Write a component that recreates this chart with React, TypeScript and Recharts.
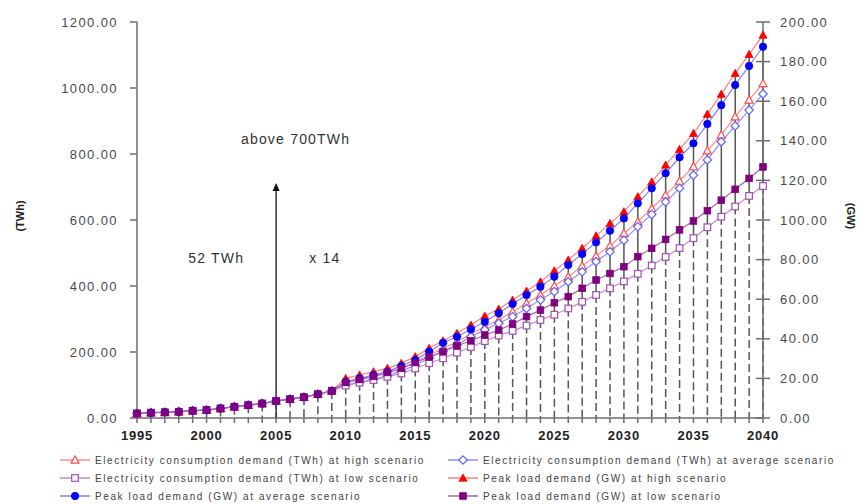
import { ComposedChart, Line, Bar, XAxis, YAxis, ReferenceLine, ReferenceDot } from 'recharts';

const years = [
  1995, 1996, 1997, 1998, 1999, 2000, 2001, 2002, 2003, 2004,
  2005, 2006, 2007, 2008, 2009, 2010, 2011, 2012, 2013, 2014,
  2015, 2016, 2017, 2018, 2019, 2020, 2021, 2022, 2023, 2024,
  2025, 2026, 2027, 2028, 2029, 2030, 2031, 2032, 2033, 2034,
  2035, 2036, 2037, 2038, 2039, 2040,
];

// consumption, TWh
const consHigh = [
  14, 16, 17, 19, 22, 24, 29, 34, 39, 44, 52, 57, 63, 72, 82,
  108, 117, 126, 136, 149, 168, 190, 211, 231, 254, 277, 297, 322, 348, 373,
  400, 428, 461, 491, 522, 560, 595, 635, 676, 718, 762, 810, 858, 913, 964, 1014,
];
const consAvg = [
  14, 16, 17, 19, 22, 24, 29, 34, 39, 44, 52, 57, 63, 72, 82,
  100, 109, 118, 128, 142, 160, 182, 203, 222, 246, 267, 287, 307, 332, 358,
  383, 413, 443, 474, 504, 539, 580, 617, 655, 696, 736, 782, 837, 885, 933, 982,
];
const consLow = [
  14, 16, 17, 19, 22, 24, 29, 34, 39, 44, 52, 57, 63, 72, 82,
  98, 107, 115, 125, 135, 150, 166, 181, 198, 215, 233, 250, 264, 280, 297,
  313, 332, 352, 373, 393, 414, 437, 462, 488, 515, 545, 578, 610, 641, 673, 703,
];

// peak load, GW
const peakHigh = [
  2.3, 2.7, 2.9, 3.2, 3.7, 4.0, 4.8, 5.7, 6.5, 7.3, 8.6, 9.5, 10.5, 12.0, 13.7,
  20.0, 21.7, 23.4, 25.1, 27.6, 31.0, 35.2, 39.0, 42.8, 47.0, 51.5, 55.0, 59.6, 64.1, 68.8,
  74.4, 79.8, 85.7, 92.0, 98.3, 104.2, 111.8, 119.3, 127.8, 135.7, 143.8, 153.5, 163.6, 174.1, 183.7, 193.4,
];
const peakAvg = [
  2.3, 2.7, 2.9, 3.2, 3.7, 4.0, 4.8, 5.7, 6.5, 7.3, 8.6, 9.5, 10.5, 12.0, 13.7,
  18.3, 20.0, 21.7, 23.4, 26.3, 29.3, 33.5, 38.0, 41.0, 44.8, 48.6, 52.9, 57.6, 62.1, 66.3,
  71.4, 77.3, 82.8, 88.7, 94.6, 100.8, 108.4, 116.0, 123.6, 131.7, 138.7, 148.5, 158.0, 168.2, 177.8, 187.5,
];
const peakLow = [
  2.3, 2.7, 2.9, 3.2, 3.7, 4.0, 4.8, 5.7, 6.5, 7.3, 8.6, 9.5, 10.5, 12.0, 13.7,
  18.0, 19.5, 21.0, 23.0, 25.1, 28.0, 30.8, 33.5, 36.5, 39.0, 41.9, 44.4, 47.5, 51.2, 54.5,
  58.2, 61.3, 65.5, 69.7, 73.0, 76.4, 81.5, 85.7, 90.2, 95.0, 99.5, 104.7, 110.0, 115.5, 121.0, 126.8,
];

const twhTicks = [0, 200, 400, 600, 800, 1000, 1200];
const gwTicks = [0, 20, 40, 60, 80, 100, 120, 140, 160, 180, 200];

// both axes top out together (1200 TWh <-> 200 GW)
const GW_TO_TWH = 1200 / 200;

const rows = years.map((year, i) => {
  const top = Math.max(consHigh[i], peakHigh[i] * GW_TO_TWH);
  const bottom = Math.min(consLow[i], peakLow[i] * GW_TO_TWH);
  return {
    year,
    ch: consHigh[i], ca: consAvg[i], cl: consLow[i],
    ph: peakHigh[i], pa: peakAvg[i], pl: peakLow[i],
    base: bottom,
    span: top - bottom,
  };
});

const FONT = '"Liberation Sans", Arial, sans-serif';
const AXIS = '#6e6e6e';

type Kind = 'tri' | 'dia' | 'sq' | 'circ';

function Mark({ kind, cx, cy, color, filled }: { kind: Kind; cx: number; cy: number; color: string; filled: boolean }) {
  const fill = filled ? color : '#fff';
  const sw = filled ? 0.8 : 1.2;
  if (kind === 'tri')
    return <polygon points={`${cx},${cy - 4} ${cx + 4},${cy + 3.2} ${cx - 4},${cy + 3.2}`} fill={fill} stroke={color} strokeWidth={sw} />;
  if (kind === 'dia')
    return <polygon points={`${cx},${cy - 4.2} ${cx + 4.2},${cy} ${cx},${cy + 4.2} ${cx - 4.2},${cy}`} fill={fill} stroke={color} strokeWidth={sw} />;
  if (kind === 'sq')
    return <rect x={cx - 3.3} y={cy - 3.3} width={6.6} height={6.6} fill={fill} stroke={color} strokeWidth={sw} />;
  return <circle cx={cx} cy={cy} r={3.7} fill={fill} stroke={color} strokeWidth={sw} />;
}

const series = [
  { key: 'ch', axis: 'twh', name: 'Electricity consumption demand (TWh) at high scenario', line: '#ff8c8c', mark: '#ff4d4d', kind: 'tri' as Kind, filled: false },
  { key: 'ca', axis: 'twh', name: 'Electricity consumption demand (TWh) at average scenario', line: '#8f8fff', mark: '#6060ff', kind: 'dia' as Kind, filled: false },
  { key: 'cl', axis: 'twh', name: 'Electricity consumption demand (TWh) at low scenario', line: '#c48ccf', mark: '#a14fb3', kind: 'sq' as Kind, filled: false },
  { key: 'ph', axis: 'gw', name: 'Peak load demand (GW) at high scenario', line: '#ff8080', mark: '#ff0000', kind: 'tri' as Kind, filled: true },
  { key: 'pa', axis: 'gw', name: 'Peak load demand (GW) at average scenario', line: '#8080ff', mark: '#0000ff', kind: 'circ' as Kind, filled: true },
  { key: 'pl', axis: 'gw', name: 'Peak load demand (GW) at low scenario', line: '#a764ad', mark: '#800080', kind: 'sq' as Kind, filled: true },
];

const DropStem = (p: any) => (
  <line x1={p.x + p.width / 2} x2={p.x + p.width / 2} y1={p.y} y2={p.y + p.height}
    stroke="#555" strokeWidth={1.5} strokeDasharray="8 4" />
);
const HiLoStem = (p: any) => (
  <line x1={p.x + p.width / 2} x2={p.x + p.width / 2} y1={p.y} y2={p.y + p.height}
    stroke="#555" strokeWidth={1.5} />
);

const YearTick = (p: any) => {
  const v = p.payload.value;
  if (v % 5 !== 0) return <g />;
  return (
    <text x={p.x} y={p.y} dy="0.71em" textAnchor="middle" fill="#222" fontSize={13}
      fontWeight="bold" fontFamily={FONT} letterSpacing={0.8}>{v}</text>
  );
};

const TwhTick = (p: any) => (
  <text x={p.x} y={p.y} dy="0.36em" textAnchor="end" fill="#4a4a4a" fontSize={13}
    fontFamily={FONT} letterSpacing={1.4}>{p.payload.value.toFixed(2)}</text>
);

const GwTick = (p: any) => (
  <g>
    <line x1={p.x - 24} x2={p.x - 17} y1={p.y} y2={p.y} stroke={AXIS} strokeWidth={1.5} />
    <text x={p.x} y={p.y} dy="0.36em" textAnchor="start" fill="#4a4a4a" fontSize={13}
      fontFamily={FONT} letterSpacing={1.4}>{p.payload.value.toFixed(2)}</text>
  </g>
);

const Arrow = (p: any) => (
  <g>
    <line x1={p.x1} y1={p.y1} x2={p.x2} y2={p.y2 + 6} stroke="#333" strokeWidth={1.5} />
    <polygon points={`${p.x2},${p.y2} ${p.x2 + 3.5},${p.y2 + 8} ${p.x2 - 3.5},${p.y2 + 8}`} fill="#111" />
  </g>
);

const noteStyle = { fill: '#333', fontSize: 14, fontFamily: FONT, letterSpacing: 1.2 };

function LegendItem({ s }: { s: (typeof series)[number] }) {
  return (
    <div style={{ display: 'flex', alignItems: 'center', height: 18 }}>
      <svg width={30} height={12} style={{ marginRight: 5 }}>
        <line x1={0} x2={30} y1={6} y2={6} stroke={s.line} strokeWidth={1.5} />
        <Mark kind={s.kind} cx={15} cy={6} color={s.mark} filled={s.filled} />
      </svg>
      <span>{s.name}</span>
    </div>
  );
}

export default function App() {
  return (
    <div style={{ position: 'absolute', left: 0, top: 0, width: 867, height: 504, background: '#fff', fontFamily: FONT, overflow: 'hidden' }}>
      <ComposedChart width={867} height={450} data={rows} margin={{ top: 22, right: 0, bottom: 0, left: 0 }}>
        <XAxis dataKey="year" type="number" domain={[1995, 2040]} ticks={years} interval={0}
          height={32} tickSize={5} tickMargin={8} tick={<YearTick />}
          stroke={AXIS} strokeWidth={1.5} />
        <YAxis yAxisId="twh" domain={[0, 1200]} ticks={twhTicks} width={137}
          tickSize={7} tickMargin={12} tick={<TwhTick />} stroke={AXIS} strokeWidth={1.5} />
        <YAxis yAxisId="gw" orientation="right" domain={[0, 200]} ticks={gwTicks} width={104}
          tickSize={7} tickMargin={10} tick={<GwTick />} stroke={AXIS} strokeWidth={1.5} />

        <Bar yAxisId="twh" dataKey="base" stackId="stem" barSize={2} shape={DropStem} isAnimationActive={false} />
        <Bar yAxisId="twh" dataKey="span" stackId="stem" barSize={2} shape={HiLoStem} isAnimationActive={false} />

        <ReferenceLine yAxisId="twh" segment={[{ x: 2005, y: 0 }, { x: 2005, y: 712 }]} shape={Arrow} />
        <ReferenceDot yAxisId="twh" x={2006.4} y={845} r={1} fill="none" stroke="none"
          label={{ value: 'above 700TWh', position: 'center', ...noteStyle }} />
        <ReferenceDot yAxisId="twh" x={2000.7} y={485} r={1} fill="none" stroke="none"
          label={{ value: '52 TWh', position: 'center', ...noteStyle }} />
        <ReferenceDot yAxisId="twh" x={2008.5} y={485} r={1} fill="none" stroke="none"
          label={{ value: 'x 14', position: 'center', ...noteStyle }} />

        {series.map((s) => (
          <Line key={s.key} yAxisId={s.axis} dataKey={s.key} type="linear" stroke={s.line}
            strokeWidth={1.2} isAnimationActive={false}
            dot={(p: any) => <Mark key={`${s.key}-${p.index}`} kind={s.kind} cx={p.cx} cy={p.cy} color={s.mark} filled={s.filled} />}
            activeDot={false} />
        ))}
      </ComposedChart>

      <div style={{ position: 'absolute', left: 4, top: 210, transform: 'rotate(-90deg)', transformOrigin: 'center', fontSize: 11, fontWeight: 'bold', color: '#222' }}>(TWh)</div>
      <div style={{ position: 'absolute', left: 838, top: 210, transform: 'rotate(90deg)', transformOrigin: 'center', fontSize: 11, fontWeight: 'bold', color: '#222' }}>(GW)</div>

      <div style={{ position: 'absolute', left: 60, top: 451, display: 'grid', gridTemplateColumns: '388px 400px', fontSize: 10, letterSpacing: 1.6, color: '#444' }}>
        {series.map((s) => <LegendItem key={s.key} s={s} />)}
      </div>
    </div>
  );
}
